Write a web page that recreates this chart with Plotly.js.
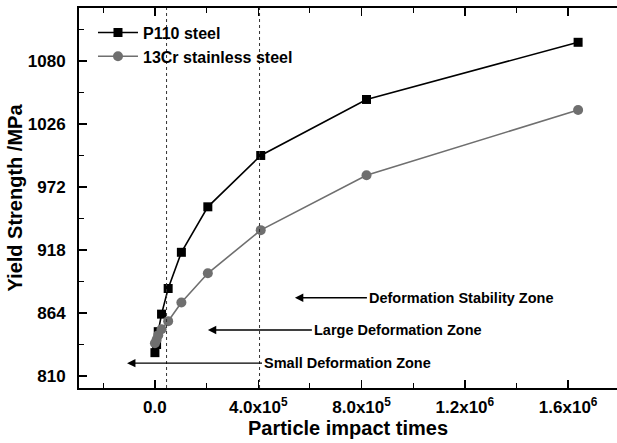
<!DOCTYPE html>
<html>
<head>
<meta charset="utf-8">
<script src="https://cdn.plot.ly/plotly-3.0.1.min.js"></script>
<style>html,body{margin:0;padding:0;background:#fff;}#chart{width:617px;height:443px;}</style>
</head>
<body>
<div id="chart"></div>
<script>
var impactTimes = [0, 6400, 12800, 25600, 51200, 102400, 204800, 409600, 819200, 1638400];
var p110Strength = [830, 837, 848, 863, 885, 916, 955, 999, 1047, 1096];
var cr13Strength = [838, 841, 845, 850, 857, 873, 898, 935, 982, 1038];
var seriesNames = ["P110 steel", "13Cr stainless steel"];
var xTickVals = [0, 400000, 800000, 1200000, 1600000];
var xTickText = ["0.0", "4.0x10<sup>5</sup>", "8.0x10<sup>5</sup>", "1.2x10<sup>6</sup>", "1.6x10<sup>6</sup>"];
var yTickVals = [810, 864, 918, 972, 1026, 1080];
var zoneBoundaries = [45000, 405000];
var zoneLabels = ["Deformation Stability Zone", "Large Deformation Zone", "Small Deformation Zone"];
var zoneArrowHeadX = [542000, 205000, -108000];
var zoneArrowHeadY = [877, 849.4, 821];

var FONT = "Liberation Sans, Arial, sans-serif";

var traces = [
  {x: impactTimes, y: p110Strength, name: seriesNames[0], mode: "lines+markers",
   line: {color: "#000000", width: 1.6}, marker: {symbol: "square", size: 9, color: "#000000"}},
  {x: impactTimes, y: cr13Strength, name: seriesNames[1], mode: "lines+markers",
   line: {color: "#6f6f6f", width: 1.6}, marker: {symbol: "circle", size: 10, color: "#6f6f6f"}}
];

var shapes = zoneBoundaries.map(function (b) {
  return {type: "line", xref: "x", yref: "paper", x0: b, x1: b, y0: 0, y1: 1,
          line: {color: "#333", width: 1, dash: "dot"}};
});

// arrow lengths in pixels (from arrow head to start of text)
var arrowLenPx = [72, 104, 135];
var annotations = zoneLabels.map(function (t, i) {
  return {x: zoneArrowHeadX[i], y: zoneArrowHeadY[i], xref: "x", yref: "y",
          text: "<b>" + t + "</b>", showarrow: true, arrowhead: 2, arrowsize: 1.2, arrowwidth: 1.4,
          arrowcolor: "#000", axref: "pixel", ayref: "pixel",
          ax: arrowLenPx[i], ay: 0, xanchor: "left", yanchor: "middle",
          font: {family: FONT, size: 14.5, color: "#000"}};
});

var layout = {
  width: 617, height: 443,
  margin: {l: 79, r: 0, t: 8, b: 55},
  paper_bgcolor: "#fff", plot_bgcolor: "#fff",
  font: {family: FONT, color: "#000"},
  showlegend: true,
  legend: {x: 0.026, y: 0.98, xanchor: "left", yanchor: "top", bgcolor: "rgba(0,0,0,0)",
           font: {family: FONT, size: 16, color: "#000", weight: "bold"}, tracegroupgap: 2, itemwidth: 40},
  xaxis: {range: [-294000, 1789000], tickmode: "array", tickvals: xTickVals, ticktext: xTickText,
          ticks: "inside", ticklen: 8, tickwidth: 1.5, tickcolor: "#000",
          showline: true, linewidth: 2, linecolor: "#000", mirror: "allticks",
          showgrid: false, zeroline: false,
          minor: {tick0: 0, dtick: 200000, ticks: "inside", ticklen: 5, tickwidth: 1.2, tickcolor: "#000"},
          tickfont: {family: FONT, size: 17, weight: "bold"}, ticklabelstandoff: 3,
          title: {text: "<b>Particle impact times</b>", font: {family: FONT, size: 20}, standoff: 2}},
  yaxis: {range: [799.7, 1125.4], tickmode: "array", tickvals: yTickVals,
          ticks: "inside", ticklen: 8, tickwidth: 1.5, tickcolor: "#000",
          showline: true, linewidth: 2, linecolor: "#000", mirror: false,
          showgrid: false, zeroline: false,
          minor: {tick0: 810, dtick: 27, ticks: "inside", ticklen: 5, tickwidth: 1.2, tickcolor: "#000"},
          tickfont: {family: FONT, size: 17, weight: "bold"}, ticklabelstandoff: 8,
          title: {text: "<b>Yield Strength /MPa</b>", font: {family: FONT, size: 20}, standoff: 0}},
  shapes: shapes,
  annotations: annotations
};

Plotly.newPlot("chart", traces, layout, {displayModeBar: false, staticPlot: true});
</script>
</body>
</html>
